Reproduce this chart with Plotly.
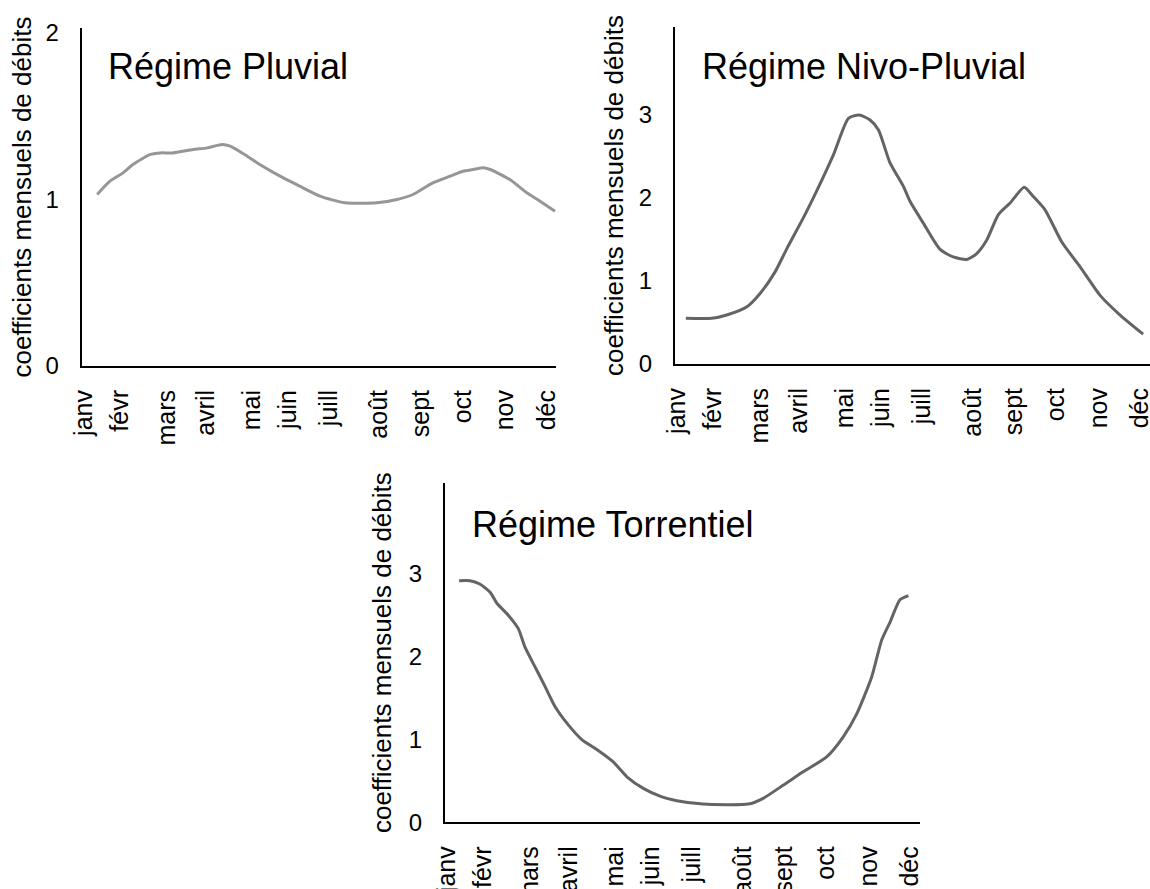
import plotly.graph_objects as go

# ---- data (x in percent of the year axis, y = monthly flow coefficient) ----
months = ["janv", "févr", "mars", "avril", "mai", "juin", "juill", "août", "sept", "oct", "nov", "déc"]
month_pos = [0.5, 8.1, 18.1, 26.4, 36.2, 43.8, 52.6, 63.3, 72.1, 81.0, 90.1, 99.0]

pluvial_x = [3.3, 6.0, 8.8, 10.9, 14.5, 16.7, 19.4, 23.7, 26.7, 29.9, 31.6, 35.2, 37.9, 42.2,
             46.4, 50.7, 56.0, 62.8, 67.1, 70.5, 74.7, 78.4, 81.1, 83.3, 85.4, 86.9, 91.1,
             94.7, 97.5, 100.7]
pluvial_y = [1.03, 1.11, 1.16, 1.21, 1.27, 1.28, 1.28, 1.30, 1.31, 1.33, 1.32, 1.26, 1.21, 1.14,
             1.08, 1.02, 0.98, 0.98, 1.00, 1.03, 1.10, 1.14, 1.17, 1.18, 1.19, 1.18, 1.12,
             1.04, 0.99, 0.93]

nivo_x = [2.3, 7.8, 11.0, 15.3, 18.1, 21.3, 23.8, 27.3, 30.1, 33.7, 36.9, 39.2, 41.5, 43.3,
          45.7, 48.6, 50.0, 52.8, 56.4, 59.2, 62.1, 64.2, 66.3, 68.8, 71.3, 74.3, 76.2,
          78.7, 82.3, 86.2, 90.4, 94.7, 99.6]
nivo_y = [0.55, 0.55, 0.59, 0.69, 0.85, 1.11, 1.39, 1.76, 2.08, 2.52, 2.96, 3.00, 2.94, 2.82,
          2.43, 2.14, 1.96, 1.70, 1.38, 1.29, 1.26, 1.33, 1.49, 1.80, 1.94, 2.13, 2.02,
          1.86, 1.47, 1.17, 0.83, 0.59, 0.36]

torr_x = [3.0, 5.3, 7.4, 9.6, 11.0, 13.5, 15.6, 17.0, 19.5, 21.3, 23.4, 26.2, 29.1, 32.3,
          35.8, 38.7, 42.2, 46.0, 49.3, 54.9, 64.5, 67.7, 72.0, 76.2, 81.2, 84.7, 87.6,
          90.8, 92.9, 94.7, 96.8, 98.6]
torr_y = [2.92, 2.92, 2.88, 2.78, 2.65, 2.50, 2.34, 2.12, 1.84, 1.64, 1.40, 1.18, 1.00, 0.88,
          0.73, 0.55, 0.41, 0.31, 0.26, 0.22, 0.22, 0.29, 0.45, 0.61, 0.79, 1.03, 1.31,
          1.76, 2.20, 2.42, 2.69, 2.74]

titles = ["Régime Pluvial", "Régime Nivo-Pluvial", "Régime Torrentiel"]
y_title = "coefficients mensuels de débits"

# ---- layout helpers ----
W, H = 1150, 889
FONT = "Arial, Liberation Sans, sans-serif"

def px_x(p):
    return p / W

def px_y(p):
    return 1 - p / H

# (left px, bottom px, top px, y max, y ticks, color, title standoff)
panels = [
    (81.7, 366.0, 28.0, 2.03, [0, 1, 2], "rgb(150,150,150)", 6, pluvial_x, pluvial_y),
    (675.0, 364.0, 27.0, 4.06, [0, 1, 2, 3], "rgb(100,100,100)", 8, nivo_x, nivo_y),
    (445.0, 822.3, 483.0, 4.10, [0, 1, 2, 3], "rgb(100,100,100)", 10, torr_x, torr_y),
]
X_RANGE = [0, 101]
AX_W = 4.7 * 101

fig = go.Figure()
layout = dict(
    width=W, height=H,
    margin=dict(l=0, r=0, t=0, b=0, autoexpand=False),
    paper_bgcolor="white", plot_bgcolor="white",
    showlegend=False,
    font=dict(family=FONT, color="black"),
    annotations=[],
)

for i, (left, bottom, top, ymax, yt, color, so, xs, ys) in enumerate(panels, start=1):
    xa = "x" if i == 1 else f"x{i}"
    ya = "y" if i == 1 else f"y{i}"
    fig.add_trace(go.Scatter(
        x=xs, y=ys, mode="lines", xaxis=xa, yaxis=ya,
        line=dict(color=color, width=3, shape="spline", smoothing=0.6),
        hoverinfo="skip",
    ))
    xkey = "xaxis" if i == 1 else f"xaxis{i}"
    ykey = "yaxis" if i == 1 else f"yaxis{i}"
    layout[xkey] = dict(
        domain=[px_x(left), min(px_x(left + AX_W), 1.0)],
        anchor=ya, range=X_RANGE, automargin=False,
        tickmode="array", tickvals=month_pos, ticktext=months,
        tickangle=-90, tickfont=dict(size=25, family=FONT, color="black"),
        ticklabelstandoff=12, ticklabeloverflow="allow",
        showline=True, linecolor="black", linewidth=2,
        showgrid=False, zeroline=False, ticks="",
        fixedrange=True,
    )
    layout[ykey] = dict(
        domain=[px_y(bottom), px_y(top)],
        anchor=xa, range=[0, ymax], automargin=False,
        tickmode="array", tickvals=yt, ticktext=[str(v) for v in yt],
        tickfont=dict(size=24, family=FONT, color="black"),
        ticklabelstandoff=16, ticklabeloverflow="allow",
        showline=True, linecolor="black", linewidth=2,
        showgrid=False, zeroline=False, ticks="",
        title=dict(text=y_title, font=dict(size=26, family=FONT, color="black"), standoff=so),
        fixedrange=True,
    )

# panel titles
title_pos = [(106, 66), (700, 66), (470, 524)]
for (tx, ty), t in zip(title_pos, titles):
    layout["annotations"].append(dict(
        text=t, x=px_x(tx), y=px_y(ty), xref="paper", yref="paper",
        xanchor="left", yanchor="middle", showarrow=False,
        font=dict(size=36, family=FONT, color="black"),
    ))

fig.update_layout(**layout)
fig.write_html(
    "out.html",
    config={"displayModeBar": False, "staticPlot": True},
    post_script="document.body.style.margin='0';document.body.style.overflow='hidden';",
)
